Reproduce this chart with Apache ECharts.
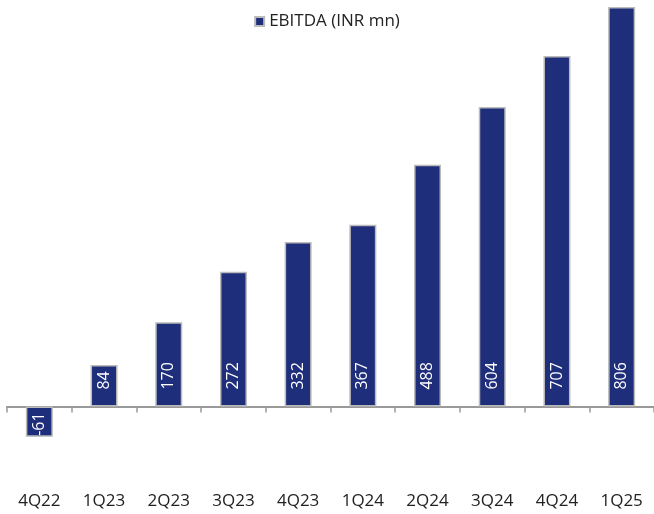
<!DOCTYPE html>
<html>
<head>
<meta charset="utf-8">
<script src="https://cdn.jsdelivr.net/npm/echarts@6/dist/echarts.min.js"></script>
<style>
  html, body { margin: 0; padding: 0; background: #fff; }
  #chart { width: 654px; height: 514px; }
</style>
</head>
<body>
<div id="chart"></div>
<script>
// 季度与EBITDA数据
const quarters = ['4Q22', '1Q23', '2Q23', '3Q23', '4Q23', '1Q24', '2Q24', '3Q24', '4Q24', '1Q25']
const ebitda = [-61, 84, 170, 272, 332, 367, 488, 604, 707, 806]

const chart = echarts.init(document.getElementById('chart'))
const font = 'Open Sans, Noto Sans, sans-serif'

// 负值柱子的标签贴近底端
const barData = ebitda.map(v => v < 0 ? { value: v, label: { distance: 1 } } : v)

const option = {
  animation: false,
  legend: {
    top: 8,
    left: 'center',
    icon: 'rect',
    itemWidth: 9,
    itemHeight: 9,
    itemGap: 4,
    textStyle: { fontFamily: font, fontSize: 17, color: '#222' },
    data: ['EBITDA (INR mn)']
  },
  grid: { left: 7, right: -3, top: 0, bottom: 33 },
  xAxis: [
    {
      // 零线和刻度
      type: 'category',
      data: quarters,
      position: 'bottom',
      axisLine: { onZero: true, lineStyle: { color: '#999', width: 2 } },
      axisTick: { show: true, length: 6, lineStyle: { color: '#999', width: 1.5 } },
      axisLabel: { show: false }
    },
    {
      // 底部标签
      type: 'category',
      data: quarters,
      position: 'bottom',
      axisLine: { show: false, onZero: false },
      axisTick: { show: false },
      axisLabel: { margin: 12, fontFamily: font, fontSize: 17, color: '#222' }
    }
  ],
  yAxis: {
    type: 'value',
    min: -150,
    max: 820,
    show: false,
    splitLine: { show: false }
  },
  series: [
    {
      name: 'EBITDA (INR mn)',
      type: 'bar',
      xAxisIndex: 0,
      data: barData,
      barWidth: 27,
      itemStyle: { color: '#1f2e7b', borderColor: '#bbbbbb', borderWidth: 1.5 },
      label: {
        show: true,
        position: 'insideBottom',
        rotate: 90,
        distance: 17,
        align: 'left',
        verticalAlign: 'middle',
        color: '#fff',
        fontFamily: font,
        fontSize: 16
      }
    }
  ]
}

chart.setOption(option)
</script>
</body>
</html>
